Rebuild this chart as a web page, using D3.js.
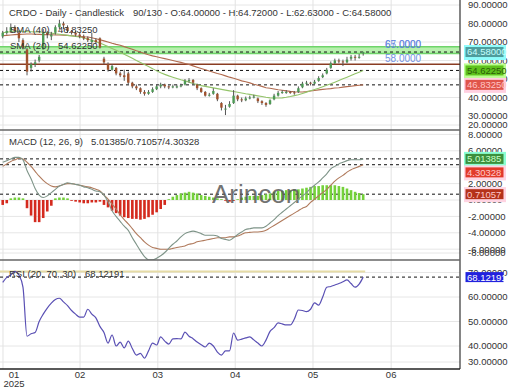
<!DOCTYPE html>
<html>
<head>
<meta charset="utf-8">
<script src="https://cdn.jsdelivr.net/npm/d3@7"></script>
<style>
  body { margin: 0; background: #fff; }
  text { font-family: "Liberation Sans", Arial, sans-serif; }
</style>
</head>
<body>
<div id="chart"></div>
<script>
// daily bars, CRDO, Jan - May 2025
const open  = [73,75,76,78,75,71,66,56,58,60, 66,75,73,75,78,80,78,76,75,74, 73,72,70,71,72,61,58,55,56,53,
               52,53,48,46,45,43,42,43,44.5,46, 47,46,45.5,46,46,47,49,49.5,47,45, 43,41,42,42,37,34,35,37,41,39,
               38.5,39.5,40,39.5,38,37,36.5,39,41,42.5, 43,43,42.8,43,45.5,47.5,48,47.5,49,51, 53,56,58.5,60,59.5,59,61,62,61.5,64];
const high  = [76,78,80,79,76,72,66.8,59,60.5,63, 77,76,75.5,79,82,81,79,76.5,76,75, 74,73,75,72,72.5,62,59,58,56.5,54,
               55,54,48.5,47,45.5,44,44,45.5,47,48, 47.5,46.5,47,47,47.5,50,50.5,50,47.5,45.5, 43.5,42.5,45,42.5,37.5,36,38,44,41.5,40,
               40.5,41,41.5,40,38.5,37.5,39,42,43.5,44, 44,43.5,43.5,46,48.5,49,48.5,49.5,51.5,53, 56,59.5,61,61,60.5,62,63,63,63.5,64.72];
const low   = [72,74,75,75,70,66,52,54,56.5,59, 66,72,71,74,77,77,75,74,73,72, 71,70,67,69,66.5,58,54,54.5,52,51,
               49,47,45,44,42,41,41.5,42.5,44,45, 45,44.5,45,45,45.5,46.5,48,47,44,42.5, 40.5,40.5,41.5,38,33,30.5,34.5,36.5,38,37.5,
               38,39,39.5,37,36,35,36,38.5,40.5,42, 42,42,41.5,42.5,45,47,46.5,47,48.5,50.5, 52.5,55.5,58,58.5,57,58.5,60,60,61,62.63];
const close = [75,76,78,76,72,67,54,58,59,62, 75,74,74,78,80,79,76,75,74,73, 72,71,71,70,67,59,55,57,53,52,
               51,48,46,45,43,42,43,44.5,46,47, 46,45.5,46,46,46.5,49,49.5,48,45,43, 41,41.5,43.5,39,34.5,34,36.5,41,39,38.5,
               39.5,40,40.5,38,37,36,38.5,41,42.5,43, 43,42.8,42.5,45,47.5,48,47.5,48.5,50.5,52, 55,58.5,60,59.5,59,60.5,62,61.5,62,64.58];

const sma20 = [75.0,75.3,75.6,75.8,75.9,75.8,75.6,75.5,75.4,75.4, 75.3,75.1,74.8,74.5,74.2,73.9,73.6,73.3,73.0,72.7,
               72.2,71.6,70.9,70.1,69.4,68.5,67.5,66.5,65.5,64.5, 63.4,62.3,61.2,60.0,58.9,57.8,56.7,55.6,54.4,53.4,
               52.5,51.7,51.0,50.3,49.6,49.0,48.3,47.6,47.0,46.4, 46.0,45.6,45.2,44.8,44.4,44.0,43.6,43.2,42.8,42.4,
               42.0,41.7,41.3,40.9,40.5,40.1,39.8,39.7,39.7,39.8, 40.1,40.5,41.0,41.5,42.2,42.9,43.6,44.3,45.0,45.8,
               46.6,47.4,48.3,49.2,50.1,51.0,51.9,52.8,53.7,54.6225];
const sma40 = [73.4,73.6,73.8,74.0,74.1,74.2,74.3,74.3,74.2,74.1, 74.0,73.9,73.9,73.8,73.8,73.7,73.6,73.4,73.2,73.0,
               72.8,72.7,72.3,71.8,71.2,70.6,70.0,69.3,68.7,68.2, 67.5,66.8,66.1,65.3,64.6,63.8,63.1,62.5,62.0,61.5,
               61.0,60.5,60.0,59.5,59.0,58.4,57.8,57.1,56.4,55.7, 55.0,54.3,53.7,53.0,52.4,51.7,51.0,50.4,49.7,49.0,
               48.5,47.9,47.2,46.6,46.0,45.3,45.0,44.6,44.2,43.9, 43.6,43.3,43.1,43.0,43.0,43.2,43.5,43.8,44.1,44.4,
               44.6,44.8,45.1,45.3,45.6,45.9,46.1,46.4,46.6,46.8325];

const macdLine = [4.6,4.8,5.0,5.2,5.2,4.9,3.6,2.6,1.4,0.6, 0.3,0.5,0.9,1.3,1.7,1.9,2.1,2.0,1.9,1.8,
                  1.6,1.5,1.3,1.1,1.0,0.6,-0.2,-1.3,-2.0,-2.6, -3.2,-3.7,-4.6,-5.4,-6.2,-6.9,-7.3,-7.3,-7.1,-6.8,
                  -6.4,-5.9,-5.4,-5.0,-4.5,-4.1,-3.9,-3.8,-3.9,-4.1, -4.3,-4.3,-4.3,-4.4,-4.7,-4.8,-4.9,-4.6,-4.2,-3.9,
                  -3.6,-3.5,-3.4,-3.4,-3.4,-3.2,-2.8,-2.4,-1.9,-1.5, -1.1,-0.7,-0.3,0.1,0.5,0.9,1.4,1.8,2.2,2.7,
                  3.2,3.8,4.1,4.4,4.6,4.8,4.9,4.9,4.9,5.01385];
const signalLine = [4.1,4.4,4.7,4.9,5.1,5.0,4.6,4.1,3.5,2.9, 2.4,2.0,1.7,1.6,1.7,1.9,2.0,2.0,1.9,1.8,
                    1.7,1.6,1.5,1.3,1.1,0.6,0.1,-0.5,-1.1,-1.8, -2.4,-2.9,-3.5,-4.1,-4.6,-5.1,-5.5,-5.8,-5.9,-6.0,
                    -6.0,-6.0,-5.9,-5.8,-5.7,-5.6,-5.4,-5.3,-5.1,-5.0, -4.9,-4.8,-4.7,-4.6,-4.6,-4.6,-4.5,-4.5,-4.4,-4.2,
                    -4.0,-3.95,-3.9,-3.9,-3.85,-3.7,-3.4,-3.1,-2.8,-2.5, -2.2,-1.9,-1.6,-1.3,-1.0,-0.8,-0.3,0.1,0.5,0.9,
                    1.3,1.8,2.3,2.7,3.0,3.4,3.7,3.9,4.1,4.30328];
const histogram = [-0.6,-0.4,0.2,0.3,0.3,0.2,-1.0,-1.9,-2.7,-2.7, -2.2,-1.4,-0.7,0.2,0.3,0.3,0.2,-0.1,-0.2,-0.3,
                   -0.4,-0.4,-0.3,-0.3,-0.2,-0.6,-0.9,-1.3,-1.6,-1.9, -2.1,-2.2,-2.3,-2.3,-2.4,-2.3,-2.1,-1.8,-1.5,-1.1,
                   -0.6,0.1,0.4,0.6,0.8,0.9,1.0,0.9,0.8,0.6, 0.5,0.4,0.3,0.2,0.1,-0.1,-0.2,-0.1,0.1,0.3,
                   0.4,0.5,0.5,0.5,0.6,0.7,0.8,1.0,1.1,1.1, 1.2,1.2,1.3,1.3,1.4,1.5,1.6,1.7,1.7,1.8,
                   1.8,1.8,1.8,1.7,1.6,1.4,1.2,1.0,0.85,0.71057];

const rsi = [66,68,69,70.5,69,64,44,45,45.5,50, 53,55.5,57.5,59,59.5,58,56.5,54.5,53,51.8,
             51.8,55,53,51.5,48,45.5,41.2,44.5,40,41.6, 39.2,42,39,36.3,37,35,38,41.2,40.4,43.7,
             42,40.8,42.9,43,42.9,45.7,44,43,41.6,40.5, 39.6,41.2,40,37.5,36.3,38,38,45.3,42.4,42.8,
             43.3,43.7,42.5,41.2,40,42.4,46,47.5,49.4,49, 48.6,48.6,51,54.7,54.5,54,55,57.6,56.7,60,
             64,64.3,64.9,65.5,66.2,67,65.5,64,65.3,68.12191];

const monthLabels = ["01", "02", "03", "04", "05", "06"];
const monthPos = [0.07, 19.1, 38.3, 57.4, 76.6, 95.9];
const priceTicks = [90, 80, 70, 60, 50, 40, 30, 20];
const macdTicks = [8, 6, 4, 2, 0, -2, -4, -6, -8];
const rsiTicks = [70, 60, 50, 40, 30];
const levelLines = [67, 65];
const supportLine = 58;

const svg = d3.select("#chart").append("svg")
  .attr("width", 520).attr("height", 390);

const x = d3.scaleLinear().domain([-0.67, 112.9]).range([0, 460]);

const panels = {
  price: { y: d3.scaleLinear().domain([20, 90]).range([134.5, 5]), top: 0, bottom: 130, lo: 5, hi: 125 },
  macd:  { y: d3.scaleLinear().domain([-8, 8]).range([265.6, 134.4]), top: 130, bottom: 260, lo: 134, hi: 253 },
  rsi:   { y: d3.scaleLinear().domain([30, 70]).range([370.5, 272.5]), top: 260, bottom: 369, lo: 265, hi: 362 }
};

// clip paths
const defs = svg.append("defs");
Object.entries(panels).forEach(([k, p]) => {
  defs.append("clipPath").attr("id", "clip-" + k)
    .append("rect").attr("x", 0).attr("y", p.top).attr("width", 460).attr("height", p.bottom - p.top);
  p.g = svg.append("g").attr("clip-path", "url(#clip-" + k + ")");
});

// grid
function grid(p, ticks) {
  p.g.selectAll(".hg").data(ticks).enter().append("line")
    .attr("x1", 0).attr("x2", 460)
    .attr("y1", d => Math.max(p.lo, Math.min(p.hi, p.y(d))))
    .attr("y2", d => Math.max(p.lo, Math.min(p.hi, p.y(d))))
    .attr("stroke", "#e6e6e6").attr("stroke-width", 1);
  p.g.selectAll(".vg").data(monthPos).enter().append("line")
    .attr("x1", d => x(d)).attr("x2", d => x(d))
    .attr("y1", p.top).attr("y2", p.bottom)
    .attr("stroke", "#e2e2e2").attr("stroke-width", 1);
}
grid(panels.price, priceTicks);
grid(panels.macd, macdTicks);
grid(panels.rsi, rsiTicks);

function dashed(p, v) {
  p.g.append("line").attr("x1", 0).attr("x2", 460)
    .attr("y1", p.y(v)).attr("y2", p.y(v))
    .attr("stroke", "#111").attr("stroke-width", 1).attr("stroke-dasharray", "3,3");
}

// ---- price panel ----
const P = panels.price;
P.g.append("rect")
  .attr("x", 0).attr("width", 460)
  .attr("y", P.y(67.4)).attr("height", P.y(63.8) - P.y(67.4))
  .attr("fill", "#b6f0ac");
[67.4, 63.8].forEach(v => {
  P.g.append("line").attr("x1", 0).attr("x2", 460).attr("y1", P.y(v)).attr("y2", P.y(v))
    .attr("stroke", "#6fd46a").attr("stroke-width", 1.5);
});
P.g.append("line").attr("x1", 0).attr("x2", 460)
  .attr("y1", P.y(supportLine)).attr("y2", P.y(supportLine))
  .attr("stroke", "#8a3c22").attr("stroke-width", 1.5);

dashed(P, close[close.length - 1]);
dashed(P, sma20[sma20.length - 1]);
dashed(P, sma40[sma40.length - 1]);

levelLines.forEach((v, i) => {
  P.g.append("text").attr("x", 385).attr("y", P.y(v) + (i ? -3.5 : 0))
    .attr("font-size", 10).attr("fill", "#5b7fe0").attr("opacity", 0.8)
    .text(v.toFixed(4));
});
P.g.append("text").attr("x", 385).attr("y", P.y(supportLine) - 2.5)
  .attr("font-size", 10).attr("fill", "#5b7fe0").attr("opacity", 0.85)
  .text(supportLine.toFixed(4));

const smaLine = d3.line().x((d, i) => x(i)).y(d => P.y(d));
P.g.append("path").datum(sma40).attr("d", smaLine)
  .attr("fill", "none").attr("stroke", "#b06a4e").attr("stroke-width", 1.1);
P.g.append("path").datum(sma20).attr("d", smaLine)
  .attr("fill", "none").attr("stroke", "#94c46a").attr("stroke-width", 1.1);

const idx = d3.range(close.length);
P.g.selectAll(".wick").data(idx).enter().append("line")
  .attr("x1", i => x(i)).attr("x2", i => x(i))
  .attr("y1", i => P.y(high[i])).attr("y2", i => P.y(low[i]))
  .attr("stroke", "#555").attr("stroke-width", 1);
P.g.selectAll(".body").data(idx).enter().append("rect")
  .attr("x", i => x(i) - 1.2).attr("width", 2.4)
  .attr("y", i => P.y(Math.max(open[i], close[i])))
  .attr("height", i => Math.max(1, Math.abs(P.y(open[i]) - P.y(close[i]))))
  .attr("fill", i => close[i] >= open[i] ? "#4d9a55" : "#a0522d");

// ---- macd panel ----
const M = panels.macd;
dashed(M, macdLine[macdLine.length - 1]);
dashed(M, signalLine[signalLine.length - 1]);
dashed(M, histogram[histogram.length - 1]);

M.g.selectAll(".hist").data(histogram).enter().append("rect")
  .attr("x", (d, i) => x(i) - 1.3).attr("width", 2.6)
  .attr("y", d => M.y(Math.max(0, d)))
  .attr("height", d => Math.abs(M.y(d) - M.y(0)))
  .attr("fill", d => d >= 0 ? "#74d13a" : "#d42a1e");

M.g.append("text").attr("x", 212).attr("y", 203)
  .attr("font-size", 26).attr("fill", "#5a5a5a").attr("opacity", 0.85)
  .text("Arincon");

const mLine = d3.line().x((d, i) => x(i)).y(d => M.y(d)).curve(d3.curveMonotoneX);
M.g.append("path").datum(signalLine).attr("d", mLine)
  .attr("fill", "none").attr("stroke", "#b07a5c").attr("stroke-width", 1.1);
M.g.append("path").datum(macdLine).attr("d", mLine)
  .attr("fill", "none").attr("stroke", "#7e9488").attr("stroke-width", 1.1);

// ---- rsi panel ----
const R = panels.rsi;
R.g.append("line").attr("x1", x(0) - 3).attr("x2", x(rsi.length - 1) + 2)
  .attr("y1", R.y(70) - 1).attr("y2", R.y(70) - 1)
  .attr("stroke", "#e6dca6").attr("stroke-width", 2);
dashed(R, rsi[rsi.length - 1]);
R.g.append("path").datum(rsi)
  .attr("d", d3.line().x((d, i) => x(i)).y(d => R.y(d)).curve(d3.curveMonotoneX))
  .attr("fill", "none").attr("stroke", "#5a50b4").attr("stroke-width", 1.2);

// ---- frame ----
svg.append("line").attr("x1", 460).attr("x2", 460).attr("y1", 0).attr("y2", 369)
  .attr("stroke", "#333").attr("stroke-width", 1.2);
svg.append("line").attr("x1", 0).attr("x2", 460).attr("y1", 369).attr("y2", 369)
  .attr("stroke", "#222").attr("stroke-width", 1.5);
[130, 260].forEach(yy => {
  svg.append("line").attr("x1", 0).attr("x2", 460).attr("y1", yy).attr("y2", yy)
    .attr("stroke", "#666").attr("stroke-width", 1.5);
});

// ---- header texts ----
function label(tx, ty, str) {
  svg.append("text").attr("x", tx).attr("y", ty)
    .attr("font-size", 9.5).attr("fill", "#333").text(str);
}
label(9, 15.5, "CRDO - Daily - Candlestick");
label(133, 15.5, "90/130 - O:" + open[89].toFixed(5) + " - H:" + high[89].toFixed(5) +
  " - L:" + low[89].toFixed(5) + " - C:" + close[89].toFixed(5));
label(10, 32.5, "SMA (40)");
label(58, 32.5, sma40[89].toFixed(5));
label(10, 48.5, "SMA (20)");
label(58, 48.5, sma20[89].toFixed(5));
label(9, 145, "MACD (12, 26, 9)");
label(91, 145, macdLine[89].toFixed(5) + "/" + histogram[89].toFixed(5) + "/" + signalLine[89].toFixed(5));
label(9, 276.5, "RSI (20, 70, 30)");
label(85, 276.5, rsi[89].toFixed(5));

// ---- y axis labels ----
function yLabels(p, ticks) {
  svg.append("g").selectAll("text").data(ticks).enter().append("text")
    .attr("x", 468)
    .attr("y", d => Math.max(p.lo, Math.min(p.hi, p.y(d))) + 3.4)
    .attr("font-size", 9.5).attr("fill", "#333")
    .text(d => d.toFixed(5));
}
yLabels(P, priceTicks);
yLabels(M, macdTicks);
yLabels(R, rsiTicks);

// value boxes
function valueBoxes(p, items) {
  let last = -Infinity;
  items.map(d => ({ ...d, cy: p.y(d.v) }))
    .sort((a, b) => a.cy - b.cy)
    .forEach(d => {
      const cy = Math.max(d.cy, last + 13.5);
      last = cy;
      if (d.halo) {
        svg.append("rect").attr("x", 464).attr("y", cy - 7).attr("width", 42).attr("height", 15)
          .attr("fill", d.halo);
      }
      svg.append("rect").attr("x", 465.5).attr("y", cy - 5).attr("width", 38).attr("height", 10)
        .attr("fill", d.fill);
      svg.append("text").attr("x", 467).attr("y", cy + 3.4)
        .attr("font-size", 9.5).attr("fill", d.color).text(d.v.toFixed(5));
    });
}
valueBoxes(P, [
  { v: close[89], fill: "#4f9c9c", color: "#c4ffff", halo: "#8ffcfc" },
  { v: sma20[89], fill: "#5ec21c", color: "#2c5c08", halo: "#baff8e" },
  { v: sma40[89], fill: "#e0544a", color: "#ffc4c4", halo: "#ffcfe0" }
]);
valueBoxes(M, [
  { v: macdLine[89], fill: "#3c8f3c", color: "#c8ffc8", halo: "#8cffd4" },
  { v: signalLine[89], fill: "#e23a2a", color: "#ffc8c8", halo: "#ffd4e2" },
  { v: histogram[89], fill: "#b5321a", color: "#ffc8c8", halo: "#ffd4e2" }
]);
valueBoxes(R, [
  { v: rsi[89], fill: "#2222dd", color: "#ffffff", halo: null }
]);

// ---- x axis ----
const xg = svg.append("g");
xg.selectAll("text").data(monthLabels).enter().append("text")
  .attr("x", (d, i) => i === 0 ? 14 : x(monthPos[i]))
  .attr("y", 378)
  .attr("text-anchor", "middle")
  .attr("font-size", 9.5).attr("fill", "#333")
  .text(d => d);
xg.append("text").attr("x", 14).attr("y", 387).attr("text-anchor", "middle")
  .attr("font-size", 9.5).attr("fill", "#333").text("2025");
</script>
</body>
</html>
